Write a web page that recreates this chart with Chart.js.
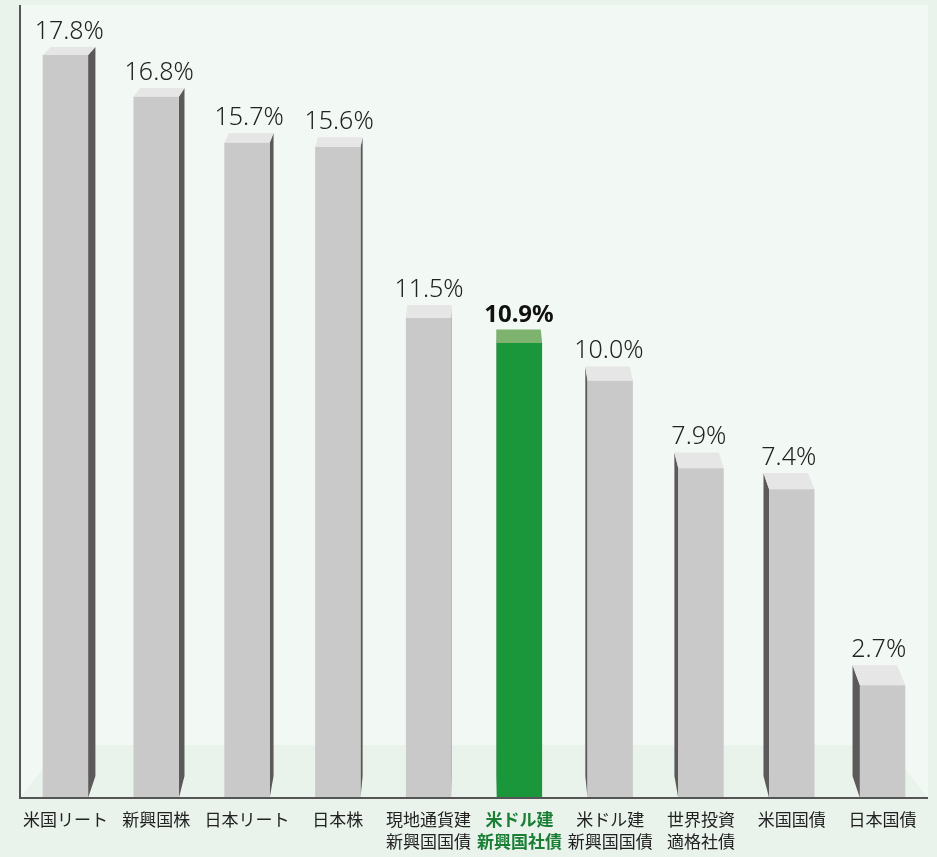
<!DOCTYPE html>
<html>
<head>
<meta charset="utf-8">
<script src="https://cdn.jsdelivr.net/npm/chart.js@4.4.0/dist/chart.umd.min.js"></script>
<style>
  body { margin: 0; background: #e9f2eb; }
  #wrap { width: 937px; height: 857px; }
</style>
</head>
<body>
<div id="wrap"><canvas id="chart" width="937" height="857"></canvas></div>
<script>
// categories (multi-line labels) and values in %
const categories = [
  '米国リート', '新興国株', '日本リート', '日本株',
  ['現地通貨建', '新興国国債'], ['米ドル建', '新興国社債'], ['米ドル建', '新興国国債'],
  ['世界投資', '適格社債'], '米国国債', '日本国債'
];
const values = [17.8, 16.8, 15.7, 15.6, 11.5, 10.9, 10.0, 7.9, 7.4, 2.7];
const highlight = 5;

const grey = { front: '#c9c9c9', top: '#e6e6e6', side: '#5b5959' };
const green = { front: '#1a963b', top: '#7db36f', side: '#0f5c24' };

// fake 3d: one point perspective towards a vanishing point above the chart
const vp = { x: 473, y: -366 };
const depth = 0.019;

function back(x, y, s) {
  return [x + s * (vp.x - x), y + s * (vp.y - y)];
}

const bar3d = {
  id: 'bar3d',
  beforeDraw(chart) {
    const { ctx, chartArea: a } = chart;
    ctx.save();
    ctx.fillStyle = '#f2f8f3';
    ctx.fillRect(a.left, a.top, a.right - a.left, a.bottom - a.top);
    // floor
    const fy = a.bottom - 53;
    ctx.fillStyle = '#e9f3eb';
    ctx.beginPath();
    ctx.moveTo(a.left, a.bottom);
    ctx.lineTo(a.right, a.bottom);
    ctx.lineTo(a.right - 42, fy);
    ctx.lineTo(a.left + 42, fy);
    ctx.closePath();
    ctx.fill();
    ctx.restore();
  },
  beforeDatasetsDraw(chart) {
    const { ctx } = chart;
    const meta = chart.getDatasetMeta(0);
    ctx.save();
    meta.data.forEach((bar, i) => {
      const c = i === highlight ? green : grey;
      const x0 = bar.x - bar.width / 2, x1 = bar.x + bar.width / 2;
      const yt = bar.y, yb = bar.base;
      // side face
      const sx = bar.x < vp.x ? x1 : x0;
      const [sxt, syt] = back(sx, yt, depth);
      const [sxb, syb] = back(sx, yb, depth);
      ctx.fillStyle = c.side;
      ctx.beginPath();
      ctx.moveTo(sx, yt);
      ctx.lineTo(sxt, syt);
      ctx.lineTo(sxb, syb);
      ctx.lineTo(sx, yb);
      ctx.closePath();
      ctx.fill();
      // top face
      const [bx0, by0] = back(x0, yt, depth);
      const [bx1, by1] = back(x1, yt, depth);
      ctx.fillStyle = c.top;
      ctx.beginPath();
      ctx.moveTo(x0, yt);
      ctx.lineTo(x1, yt);
      ctx.lineTo(bx1, by1);
      ctx.lineTo(bx0, by0);
      ctx.closePath();
      ctx.fill();
    });
    ctx.restore();
  },
  afterDatasetsDraw(chart) {
    const { ctx } = chart;
    const meta = chart.getDatasetMeta(0);
    ctx.save();
    ctx.textAlign = 'center';
    ctx.textBaseline = 'alphabetic';
    meta.data.forEach((bar, i) => {
      const [bx, by] = back(bar.x, bar.y, depth);
      const cx = (bar.x + bx) / 2;
      if (i === highlight) {
        ctx.font = "bold 24px 'Noto Sans', sans-serif";
        ctx.fillStyle = '#111';
      } else {
        ctx.font = "300 25px 'Noto Sans', sans-serif";
        ctx.fillStyle = '#222';
      }
      ctx.fillText(values[i].toFixed(1) + '%', cx, by - 8);
    });
    ctx.restore();
  },
  afterDraw(chart) {
    const { ctx, chartArea: a } = chart;
    ctx.save();
    ctx.strokeStyle = '#555';
    ctx.lineWidth = 2;
    ctx.beginPath();
    ctx.moveTo(a.left, a.top);
    ctx.lineTo(a.left, a.bottom);
    ctx.lineTo(a.right, a.bottom);
    ctx.stroke();
    ctx.restore();
  }
};

new Chart(document.getElementById('chart'), {
  type: 'bar',
  data: {
    labels: categories,
    datasets: [{
      data: values,
      backgroundColor: values.map((v, i) => i === highlight ? green.front : grey.front),
      borderWidth: 0,
      barPercentage: 0.5,
      categoryPercentage: 1.0
    }]
  },
  options: {
    responsive: false,
    animation: false,
    layout: { padding: { left: 20, right: 9, top: 5, bottom: 0 } },
    plugins: { legend: { display: false }, tooltip: { enabled: false } },
    scales: {
      x: {
        afterFit: s => { s.height = 59; },
        grid: { display: false, drawTicks: false },
        border: { display: false },
        ticks: {
          autoSkip: false,
          maxRotation: 0,
          padding: 10,
          color: c => c.index === highlight ? '#1a7f35' : '#222',
          font: c => ({
            family: "'Noto Sans CJK JP', sans-serif",
            size: 17,
            lineHeight: 1.3,
            weight: c.index === highlight ? 'bold' : 'normal'
          })
        }
      },
      y: { display: false, min: 0, max: 19 }
    }
  },
  plugins: [bar3d]
});
</script>
</body>
</html>
